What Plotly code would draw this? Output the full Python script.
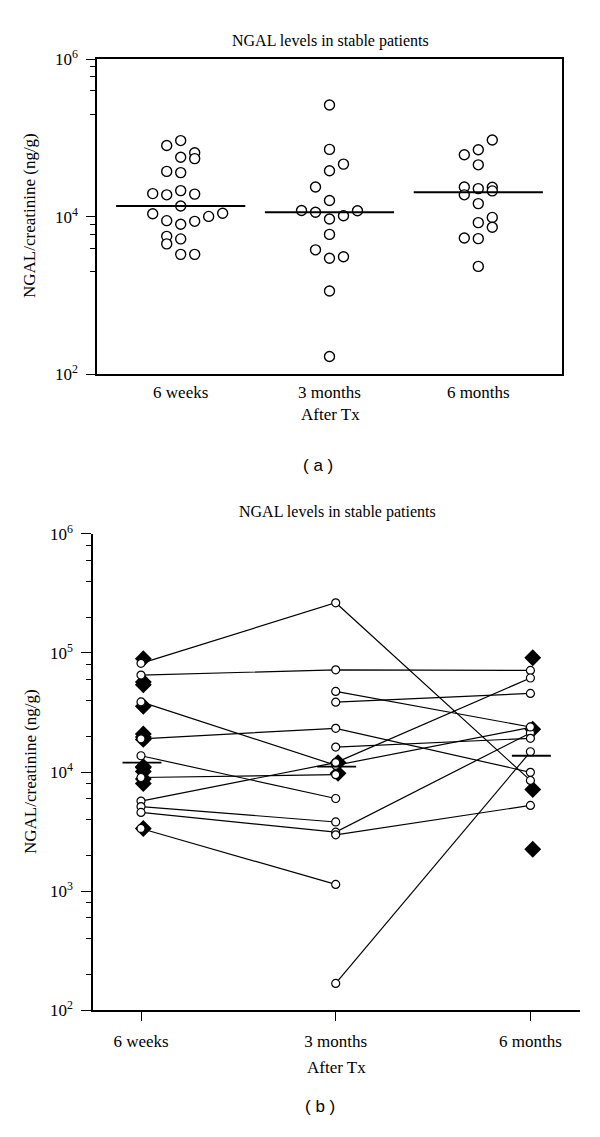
import plotly.graph_objects as go

W, H = 600, 1137

categories = ["6 weeks", "3 months", "6 months"]

# ---------------- Panel (a): all samples ----------------
a_wk6 = [92900, 80500, 65200, 57000, 54800, 37700, 36400, 21500, 19700, 19000, 19400,
         13700, 10900, 11100, 10100, 8920, 8750, 8020, 5640, 5230, 4520, 3330, 3330]
a_mo3 = [263700, 71800, 46600, 38500, 23900, 16100, 12000, 11400, 11900, 10300, 9360,
         5970, 3800, 2970, 3110, 1140, 168]
a_mo6 = [94600, 71000, 61500, 45700, 23900, 22800, 23700, 19000, 21300, 14700, 9810,
         8420, 7360, 5370, 5270, 2340]
a_medians = [13700, 11400, 20500]

# beeswarm slot of each point (layout only)
a_wk6_slot = [0, -1, 1, 0, 1, -1, 0, 0, -2, -1, 1, 0, -2, 3, 2, -1, 1, 0, -1, 0, -1, 0, 1]
a_mo3_slot = [0, 0, 1, 0, -1, 0, -2, -1, 2, 1, 0, 0, -1, 0, 1, 0, 0]
a_mo6_slot = [1, 0, -1, 0, -1, 0, 1, -1, 1, 0, 1, 0, 1, -1, 0, 0]

# ---------------- Panel (b): paired follow-up ----------------
N = None
b_wk6 = [81800, 65200, 38800, 19000, 13700, 9000, 5710, 5130, 4580, 3360, N, N, N, N, N]
b_mo3 = [263600, 72100, 11400, 23300, 6000, 9500, 12000, 3810, 3130, 1140,
         47500, 38600, 16200, 168, 2970]
b_mo6 = [8510, 71300, 23700, 9950, N, N, 61600, N, 21300, N,
         23900, 45700, 19200, 14800, 5250]
# unpaired samples (filled diamonds)
b_wk6_d = [89500, 57000, 54000, 35700, 20900, 19700, 18800, 10900, 11100, 10100, 8750, 8020, 3360]
b_mo3_d = [12000, 9750]
b_mo6_d = [91200, 22900, 7130, 2250]
b_medians = [12000, 11100, 13700]

SERIF = "Liberation Serif"
SANS = "Liberation Sans"

def py(p):
    return 1 - p / H

def px(p):
    return p / W

fig = go.Figure()

# ---- panel a traces ----
step_a = 0.094
for ci, (vals, slots) in enumerate([(a_wk6, a_wk6_slot), (a_mo3, a_mo3_slot), (a_mo6, a_mo6_slot)]):
    fig.add_trace(go.Scatter(
        x=[ci + s * step_a for s in slots], y=vals, mode="markers",
        marker=dict(symbol="circle", size=10, color="white", line=dict(color="black", width=1.4)),
        xaxis="x", yaxis="y", showlegend=False, hoverinfo="skip"))
hw_a = 0.434
for ci, m in enumerate(a_medians):
    fig.add_trace(go.Scatter(x=[ci - hw_a, ci + hw_a], y=[m, m], mode="lines",
                             line=dict(color="black", width=2), xaxis="x", yaxis="y",
                             showlegend=False, hoverinfo="skip"))

# ---- panel b traces ----
d_off = 0.012
for ci, vals in enumerate([b_wk6_d, b_mo3_d, b_mo6_d]):
    fig.add_trace(go.Scatter(
        x=[ci + d_off] * len(vals), y=vals, mode="markers",
        marker=dict(symbol="diamond", size=13, color="black", line=dict(color="black", width=0)),
        xaxis="x2", yaxis="y2", showlegend=False, hoverinfo="skip"))
for i in range(len(b_mo3)):
    fig.add_trace(go.Scatter(
        x=[0, 1, 2], y=[b_wk6[i], b_mo3[i], b_mo6[i]], mode="lines+markers",
        line=dict(color="black", width=1.2),
        marker=dict(symbol="circle", size=8, color="white", line=dict(color="black", width=1.2)),
        connectgaps=False, xaxis="x2", yaxis="y2", showlegend=False, hoverinfo="skip"))
hw_b = 0.1
for ci, m in enumerate(b_medians):
    fig.add_trace(go.Scatter(x=[ci + 0.005 - hw_b, ci + 0.005 + hw_b], y=[m, m], mode="lines",
                             line=dict(color="black", width=1.8), xaxis="x2", yaxis="y2",
                             showlegend=False, hoverinfo="skip"))

tickfont = dict(family=SERIF, size=17, color="black")
sup = lambda e: "10<sup>%d</sup>" % e

fig.update_layout(
    width=W, height=H, autosize=False,
    margin=dict(l=0, r=0, t=0, b=0),
    paper_bgcolor="white", plot_bgcolor="white",
    xaxis=dict(domain=[px(97), px(562)], range=[-0.5625, 2.5625],
               tickvals=[0, 1, 2], ticktext=categories, ticks="", ticklen=0,
               showline=True, mirror=True, linecolor="black", linewidth=1.5,
               showgrid=False, zeroline=False, tickfont=tickfont, anchor="y",
               ticklabelstandoff=2),
    yaxis=dict(domain=[py(369.3), py(48.3)], type="log", range=[2, 6],
               tickvals=[1e2, 1e4, 1e6], ticktext=[sup(2), sup(4), sup(6)],
               ticks="outside", ticklen=9, tickwidth=1.4, tickcolor="black",
               minor=dict(tickmode="array",
                          tickvals=[2e5, 4e5, 6e5, 8e5, 2e3, 4e3, 6e3, 8e3],
                          ticks="outside", ticklen=5, tickwidth=1.4, tickcolor="black",
                          showgrid=False),
               showline=True, mirror=True, linecolor="black", linewidth=1.5,
               showgrid=False, zeroline=False, tickfont=tickfont, anchor="x",
               ticklabelstandoff=5),
    xaxis2=dict(domain=[px(93), px(580)], range=[-0.2465, 2.2547],
                tickvals=[0, 1, 2], ticktext=categories,
                ticks="outside", ticklen=9, tickwidth=1.4, tickcolor="black",
                showline=True, mirror=False, linecolor="black", linewidth=1.5,
                showgrid=False, zeroline=False, tickfont=tickfont, anchor="y2",
                ticklabelstandoff=6),
    yaxis2=dict(domain=[py(1018.0), py(532.1)], type="log", range=[2, 6],
                tickvals=[1e2, 1e3, 1e4, 1e5, 1e6],
                ticktext=[sup(2), sup(3), sup(4), sup(5), sup(6)],
                ticks="outside", ticklen=10, tickwidth=1.4, tickcolor="black",
                minor=dict(tickmode="array",
                           tickvals=[m * 10 ** e for e in range(2, 6) for m in (2, 4, 6, 8)],
                           ticks="outside", ticklen=5, tickwidth=1.4, tickcolor="black",
                           showgrid=False),
                showline=True, mirror=False, linecolor="black", linewidth=1.5,
                showgrid=False, zeroline=False, tickfont=tickfont, anchor="x2",
                ticklabelstandoff=5),
)

def ann(text, x, y, size=16, family=SERIF, angle=0):
    fig.add_annotation(text=text, x=px(x), y=py(y), xref="paper", yref="paper",
                       showarrow=False, xanchor="center", yanchor="middle",
                       textangle=angle, font=dict(family=family, size=size, color="black"))

title = "NGAL levels in stable patients"
ytitle = "NGAL/creatinine (ng/g)"
ann(title, 330, 30)
ann("After Tx", 330, 410, size=17)
ann(ytitle, 30, 208, size=17, angle=-90)
ann("( a )", 318, 462, size=17, family=SANS)

ann(title, 337, 510)
ann("After Tx", 336, 1076, size=17)
ann(ytitle, 30, 775, size=17, angle=-90)
ann("( b )", 320, 1116, size=17, family=SANS)

fig.write_html("out.html", config={"displayModeBar": False},
               post_script="document.body.style.margin='0px';")
